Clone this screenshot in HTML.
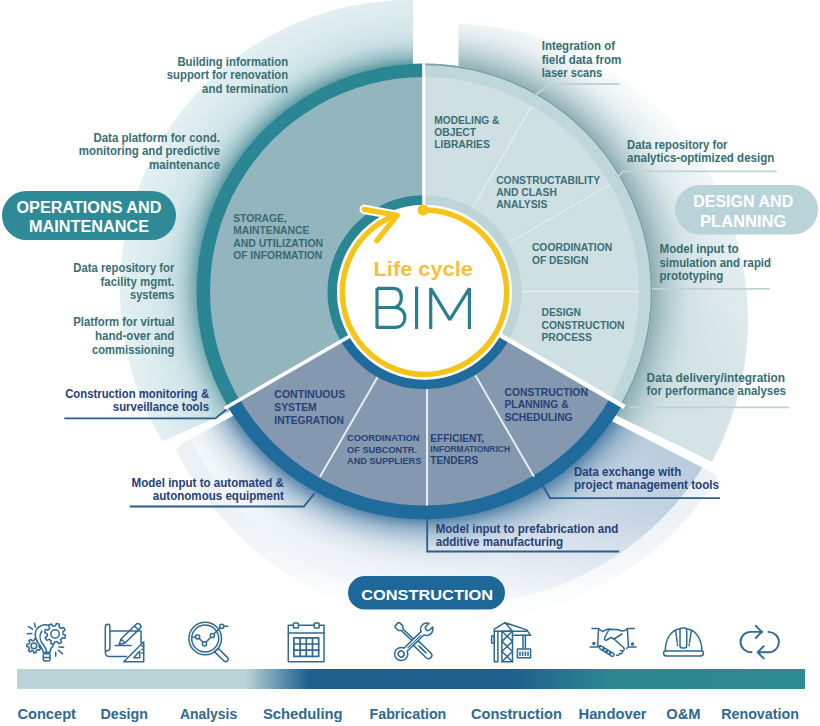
<!DOCTYPE html>
<html><head><meta charset="utf-8"><style>
html,body{margin:0;padding:0;background:#ffffff;}
body{width:820px;height:726px;overflow:hidden;font-family:"Liberation Sans",sans-serif;}
svg{display:block;}
</style></head><body>
<svg width="820" height="726" viewBox="0 0 820 726">
<defs>
<radialGradient id="gOps" gradientUnits="userSpaceOnUse" cx="424.5" cy="291.5" r="300">
 <stop offset="0.7600" stop-color="#b5d4d9"/>
 <stop offset="0.8333" stop-color="#cee3e7"/>
 <stop offset="0.9167" stop-color="#daeaed"/>
 <stop offset="1.0000" stop-color="#e3f0f2"/>
</radialGradient>
<radialGradient id="gOpsSh" gradientUnits="userSpaceOnUse" cx="424.5" cy="291.5" r="262">
 <stop offset="0.8702" stop-color="#2f7a85" stop-opacity="0.62"/>
 <stop offset="0.9008" stop-color="#4f8f98" stop-opacity="0.38"/>
 <stop offset="0.9466" stop-color="#7fb0b7" stop-opacity="0.15"/>
 <stop offset="1.0000" stop-color="#b9d5d9" stop-opacity="0"/>
</radialGradient>
<radialGradient id="gDes" gradientUnits="userSpaceOnUse" cx="560" cy="420" r="340">
 <stop offset="0.0000" stop-color="#d0e1e4"/>
 <stop offset="0.4412" stop-color="#d4e3e6"/>
 <stop offset="0.6765" stop-color="#e1ecee"/>
 <stop offset="0.8529" stop-color="#f3f7f8"/>
 <stop offset="1.0000" stop-color="#ffffff"/>
</radialGradient>
<radialGradient id="gDesSh" gradientUnits="userSpaceOnUse" cx="424.5" cy="291.5" r="300">
 <stop offset="0.7533" stop-color="#86a9b0" stop-opacity="0.95"/>
 <stop offset="0.8167" stop-color="#a9c4c9" stop-opacity="0.7"/>
 <stop offset="0.8833" stop-color="#c8dcdf" stop-opacity="0.4"/>
 <stop offset="1.0000" stop-color="#e0ebed" stop-opacity="0"/>
</radialGradient>
<linearGradient id="gCon" gradientUnits="userSpaceOnUse" x1="700" y1="430" x2="250" y2="600">
 <stop offset="0" stop-color="#b3c7d9"/>
 <stop offset="0.35" stop-color="#cad8e5"/>
 <stop offset="0.7" stop-color="#e4ecf2"/>
 <stop offset="1" stop-color="#f5f8fa"/>
</linearGradient>
<radialGradient id="gConSh" gradientUnits="userSpaceOnUse" cx="424.5" cy="291.5" r="275">
 <stop offset="0.8291" stop-color="#3b6f9c" stop-opacity="0.8"/>
 <stop offset="0.8727" stop-color="#4f80a8" stop-opacity="0.45"/>
 <stop offset="0.9309" stop-color="#7c9fbd" stop-opacity="0.18"/>
 <stop offset="1.0000" stop-color="#a9c0d4" stop-opacity="0"/>
</radialGradient>
<linearGradient id="gBar" x1="17" x2="805" y1="0" y2="0" gradientUnits="userSpaceOnUse">
 <stop offset="0" stop-color="#b9d3d7"/>
 <stop offset="0.290" stop-color="#b9d3d7"/>
 <stop offset="0.370" stop-color="#1f5f8d"/>
 <stop offset="0.625" stop-color="#1f5f8d"/>
 <stop offset="0.755" stop-color="#2c8790"/>
 <stop offset="1" stop-color="#2e8a92"/>
</linearGradient>
<linearGradient id="mOpsG" gradientUnits="userSpaceOnUse" x1="0" y1="40" x2="0" y2="440">
 <stop offset="0" stop-color="#fff"/><stop offset="0.45" stop-color="#fff"/><stop offset="1" stop-color="#777"/>
</linearGradient>
<mask id="mOps" maskUnits="userSpaceOnUse" x="0" y="0" width="820" height="726"><rect width="820" height="726" fill="url(#mOpsG)"/></mask>
<linearGradient id="mDesG" gradientUnits="userSpaceOnUse" x1="0" y1="40" x2="0" y2="460">
 <stop offset="0" stop-color="#fff"/><stop offset="0.4" stop-color="#fff"/><stop offset="1" stop-color="#888"/>
</linearGradient>
<mask id="mDes" maskUnits="userSpaceOnUse" x="0" y="0" width="820" height="726"><rect width="820" height="726" fill="url(#mDesG)"/></mask>
<linearGradient id="mConG" gradientUnits="userSpaceOnUse" x1="0" y1="420" x2="0" y2="610">
 <stop offset="0" stop-color="#fff"/><stop offset="0.5" stop-color="#ddd"/><stop offset="0.8" stop-color="#666"/><stop offset="1" stop-color="#111"/>
</linearGradient>
<mask id="mCon" maskUnits="userSpaceOnUse" x="0" y="0" width="820" height="726"><rect width="820" height="726" fill="url(#mConG)"/></mask>
<clipPath id="cOps"><circle cx="410" cy="290" r="290"/></clipPath>
<clipPath id="cCon"><circle cx="454.5" cy="311.5" r="293"/></clipPath>
<clipPath id="cCon2"><circle cx="454.5" cy="311.5" r="311"/></clipPath>
<clipPath id="cDes"><circle cx="452" cy="320" r="296"/></clipPath>
</defs>
<g clip-path="url(#cOps)"><path d="M413,0 L413,291 L228,412 L150,447 L0,520 L0,0 Z" fill="url(#gOps)"/><path d="M413,0 L413,291 L228,412 L150,447 L0,520 L0,0 Z" fill="url(#gOpsSh)" mask="url(#mOps)"/></g>
<g clip-path="url(#cDes)"><path d="M458.5,0 L820,0 L820,520 L724.6,467.8 L615.4,415.1 L470,340 L458.5,330 Z" fill="url(#gDes)"/><path d="M458.5,0 L820,0 L820,520 L724.6,467.8 L615.4,415.1 L470,340 L458.5,330 Z" fill="url(#gDesSh)"/></g>
<g clip-path="url(#cCon2)"><path d="M231,417 L183,443 L100,520 L100,726 L800,726 L800,520 L699.3,465.9 L613.4,422 L424.5,320 Z" fill="#eaf0f5" mask="url(#mCon)"/></g>
<g clip-path="url(#cCon)"><path d="M231,417 L183,443 L100,520 L100,726 L800,726 L800,520 L699.3,465.9 L613.4,422 L424.5,320 Z" fill="url(#gCon)" mask="url(#mCon)"/><path d="M231,417 L183,443 L100,520 L100,726 L800,726 L800,520 L699.3,465.9 L613.4,422 L424.5,320 Z" fill="url(#gConSh)"/></g>
<path d="M424.50,291.50 L227.05,405.50 A228,228 0 0 1 424.50,63.50 Z" fill="#93b5bd"/>
<path d="M227.05,405.50 A228,228 0 0 1 424.50,63.50 L424.50,77.00 A214.5,214.5 0 0 0 238.74,398.75 Z" fill="#2a8692"/>
<path d="M424.50,291.50 L424.50,63.50 A228,228 0 0 1 621.95,405.50 Z" fill="#cfe0e3"/>
<path d="M424.50,63.50 A228,228 0 0 1 621.95,405.50 L610.26,398.75 A214.5,214.5 0 0 0 424.50,77.00 Z" fill="#bfd6da"/>
<path d="M424.50,63.50 A228,228 0 0 1 621.95,405.50 L620.48,404.65 A226.3,226.3 0 0 0 424.50,65.20 Z" fill="#7aa2a9"/>
<path d="M424.50,291.50 L621.95,405.50 A228,228 0 0 1 227.05,405.50 Z" fill="#8498af"/>
<path d="M621.95,405.50 A228,228 0 0 1 227.05,405.50 L239.17,398.50 A214,214 0 0 0 609.83,398.50 Z" fill="#1f6b9b"/>
<line x1="473.00" y1="207.50" x2="531.75" y2="105.74" stroke="#e4eef0" stroke-width="1.3"/>
<line x1="508.50" y1="243.00" x2="610.26" y2="184.25" stroke="#e4eef0" stroke-width="1.3"/>
<line x1="521.50" y1="291.50" x2="639.00" y2="291.50" stroke="#e4eef0" stroke-width="1.3"/>
<line x1="475.50" y1="375.50" x2="534.00" y2="476.83" stroke="#e6edf3" stroke-width="2"/>
<line x1="427.00" y1="388.50" x2="427.00" y2="505.50" stroke="#e6edf3" stroke-width="2"/>
<line x1="378.50" y1="375.50" x2="320.00" y2="476.83" stroke="#e6edf3" stroke-width="2"/>
<path d="M340.50,340.70 A97,97 0 0 1 424.50,195.20 L424.50,204.70 A87.5,87.5 0 0 0 348.72,335.95 Z" fill="#2a8692"/>
<path d="M424.50,195.20 A97,97 0 0 1 508.50,340.70 L500.28,335.95 A87.5,87.5 0 0 0 424.50,204.70 Z" fill="#bdd5d9"/>
<path d="M508.50,340.70 A97,97 0 0 1 340.50,340.70 L348.72,335.95 A87.5,87.5 0 0 0 500.28,335.95 Z" fill="#1f6b9b"/>
<circle cx="424.5" cy="292.2" r="87.5" fill="#ffffff"/>
<line x1="350.89" y1="335.50" x2="224.45" y2="408.50" stroke="#ffffff" stroke-width="3.6"/>
<line x1="498.11" y1="334.00" x2="624.55" y2="407.00" stroke="#ffffff" stroke-width="4.5"/>
<line x1="423.7" y1="62" x2="423.7" y2="205" stroke="#ffffff" stroke-width="3"/>
<path d="M364.3,209.3 L397.2,215.3 L376.9,240.6" fill="none" stroke="#ffffff" stroke-width="9.5" stroke-linecap="round" stroke-linejoin="round"/>
<path d="M423.07,210.01 A82.2,82.2 0 1 1 397.06,214.71" fill="none" stroke="#f5c419" stroke-width="5.5"/>
<circle cx="423.07" cy="210.01" r="5.6" fill="#f5c419"/>
<path d="M364.3,209.3 L397.2,215.3 L376.9,240.6" fill="none" stroke="#f5c419" stroke-width="5.4" stroke-linecap="round" stroke-linejoin="round"/>
<g font-family="Liberation Sans, sans-serif" font-weight="700"><text x="373.50" y="276.20" font-size="19.5" fill="#f1c23a" text-anchor="start" textLength="99.4" lengthAdjust="spacingAndGlyphs" >Life cycle</text></g>
<g fill="none" stroke="#2b7f8c" stroke-width="3.2" stroke-linejoin="bevel">
<path d="M377,288.3 L377,327.4 L395,327.4 C402,327.4 404.9,322.5 404.9,317.3 C404.9,311.8 401,307.5 394,307.5 L377,307.5 M377,288.3 L393,288.3 C399,288.3 401.4,292.5 401.4,297.8 C401.4,303.3 398,307.5 393,307.5"/>
<path d="M416.6,286.7 L416.6,329"/>
<path d="M430.7,329 L430.7,288.3 L449.8,319.6 L469.4,288.3 L469.4,329"/>
</g>
<g font-family="Liberation Sans, sans-serif" font-weight="700"><text x="233.20" y="222.00" font-size="10.3" fill="#396b72" text-anchor="start" >STORAGE,</text><text x="233.20" y="234.40" font-size="10.3" fill="#396b72" text-anchor="start" >MAINTENANCE</text><text x="233.20" y="246.80" font-size="10.3" fill="#396b72" text-anchor="start" textLength="90.0" lengthAdjust="spacingAndGlyphs" >AND UTILIZATION</text><text x="233.20" y="259.30" font-size="10.3" fill="#396b72" text-anchor="start" >OF INFORMATION</text></g>
<g font-family="Liberation Sans, sans-serif" font-weight="700"><text x="434.30" y="123.70" font-size="10.3" fill="#3a6f75" text-anchor="start" textLength="65.1" lengthAdjust="spacingAndGlyphs" >MODELING &amp;</text><text x="434.30" y="135.90" font-size="10.3" fill="#3a6f75" text-anchor="start" >OBJECT</text><text x="434.30" y="148.30" font-size="10.3" fill="#3a6f75" text-anchor="start" >LIBRARIES</text></g>
<g font-family="Liberation Sans, sans-serif" font-weight="700"><text x="496.20" y="183.70" font-size="10.3" fill="#3a6f75" text-anchor="start" textLength="103.9" lengthAdjust="spacingAndGlyphs" >CONSTRUCTABILITY</text><text x="496.20" y="195.90" font-size="10.3" fill="#3a6f75" text-anchor="start" >AND CLASH</text><text x="496.20" y="208.00" font-size="10.3" fill="#3a6f75" text-anchor="start" >ANALYSIS</text></g>
<g font-family="Liberation Sans, sans-serif" font-weight="700"><text x="531.90" y="251.20" font-size="10.3" fill="#3a6f75" text-anchor="start" textLength="80.3" lengthAdjust="spacingAndGlyphs" >COORDINATION</text><text x="531.90" y="263.60" font-size="10.3" fill="#3a6f75" text-anchor="start" >OF DESIGN</text></g>
<g font-family="Liberation Sans, sans-serif" font-weight="700"><text x="541.50" y="316.30" font-size="10.3" fill="#3a6f75" text-anchor="start" >DESIGN</text><text x="541.50" y="328.70" font-size="10.3" fill="#3a6f75" text-anchor="start" textLength="83.0" lengthAdjust="spacingAndGlyphs" >CONSTRUCTION</text><text x="541.50" y="340.70" font-size="10.3" fill="#3a6f75" text-anchor="start" >PROCESS</text></g>
<g font-family="Liberation Sans, sans-serif" font-weight="700"><text x="274.30" y="397.90" font-size="10.3" fill="#254377" text-anchor="start" textLength="70.9" lengthAdjust="spacingAndGlyphs" >CONTINUOUS</text><text x="274.30" y="410.80" font-size="10.3" fill="#254377" text-anchor="start" >SYSTEM</text><text x="274.30" y="423.80" font-size="10.3" fill="#254377" text-anchor="start" textLength="69.5" lengthAdjust="spacingAndGlyphs" >INTEGRATION</text></g>
<g font-family="Liberation Sans, sans-serif" font-weight="700"><text x="347.10" y="441.30" font-size="9.2" fill="#254377" text-anchor="start" textLength="72.5" lengthAdjust="spacingAndGlyphs" >COORDINATION</text><text x="347.10" y="453.00" font-size="9.2" fill="#254377" text-anchor="start" >OF SUBCONTR.</text><text x="347.10" y="464.40" font-size="9.2" fill="#254377" text-anchor="start" textLength="74.2" lengthAdjust="spacingAndGlyphs" >AND SUPPLIERS</text></g>
<g font-family="Liberation Sans, sans-serif" font-weight="700"><text x="430.30" y="442.00" font-size="10.2" fill="#254377" text-anchor="start" textLength="53.8" lengthAdjust="spacingAndGlyphs" >EFFICIENT,</text><text x="430.30" y="464.40" font-size="10.2" fill="#254377" text-anchor="start" textLength="47.9" lengthAdjust="spacingAndGlyphs" >TENDERS</text></g>
<g font-family="Liberation Sans, sans-serif" font-weight="700"><text x="430.30" y="451.70" font-size="8.4" fill="#254377" text-anchor="start" textLength="79.7" lengthAdjust="spacingAndGlyphs" >INFORMATIONRICH</text></g>
<g font-family="Liberation Sans, sans-serif" font-weight="700"><text x="504.50" y="396.30" font-size="10.3" fill="#254377" text-anchor="start" textLength="83.4" lengthAdjust="spacingAndGlyphs" >CONSTRUCTION</text><text x="504.50" y="408.40" font-size="10.3" fill="#254377" text-anchor="start" >PLANNING &amp;</text><text x="504.50" y="421.10" font-size="10.3" fill="#254377" text-anchor="start" >SCHEDULING</text></g>
<g font-family="Liberation Sans, sans-serif" font-weight="700"><text x="288.10" y="65.50" font-size="11.9" fill="#3a6f74" text-anchor="end" textLength="110.7" lengthAdjust="spacingAndGlyphs" >Building information</text><text x="288.10" y="79.40" font-size="11.9" fill="#3a6f74" text-anchor="end" textLength="121.3" lengthAdjust="spacingAndGlyphs" >support for renovation</text><text x="288.10" y="92.90" font-size="11.9" fill="#3a6f74" text-anchor="end" textLength="86.0" lengthAdjust="spacingAndGlyphs" >and termination</text></g>
<g font-family="Liberation Sans, sans-serif" font-weight="700"><text x="219.90" y="141.60" font-size="11.9" fill="#3a6f74" text-anchor="end" textLength="126.5" lengthAdjust="spacingAndGlyphs" >Data platform for cond.</text><text x="219.90" y="155.20" font-size="11.9" fill="#3a6f74" text-anchor="end" textLength="141.1" lengthAdjust="spacingAndGlyphs" >monitoring and predictive</text><text x="219.90" y="168.90" font-size="11.9" fill="#3a6f74" text-anchor="end" textLength="70.9" lengthAdjust="spacingAndGlyphs" >maintenance</text></g>
<g font-family="Liberation Sans, sans-serif" font-weight="700"><text x="174.40" y="271.60" font-size="11.9" fill="#3a6f74" text-anchor="end" textLength="101.1" lengthAdjust="spacingAndGlyphs" >Data repository for</text><text x="174.40" y="285.70" font-size="11.9" fill="#3a6f74" text-anchor="end" textLength="73.9" lengthAdjust="spacingAndGlyphs" >facility mgmt.</text><text x="174.40" y="298.50" font-size="11.9" fill="#3a6f74" text-anchor="end" textLength="44.4" lengthAdjust="spacingAndGlyphs" >systems</text></g>
<g font-family="Liberation Sans, sans-serif" font-weight="700"><text x="174.40" y="326.40" font-size="11.9" fill="#3a6f74" text-anchor="end" textLength="101.1" lengthAdjust="spacingAndGlyphs" >Platform for virtual</text><text x="174.40" y="340.40" font-size="11.9" fill="#3a6f74" text-anchor="end" textLength="79.4" lengthAdjust="spacingAndGlyphs" >hand-over and</text><text x="174.40" y="354.00" font-size="11.9" fill="#3a6f74" text-anchor="end" textLength="82.4" lengthAdjust="spacingAndGlyphs" >commissioning</text></g>
<g font-family="Liberation Sans, sans-serif" font-weight="700"><text x="209.10" y="398.20" font-size="11.9" fill="#26427a" text-anchor="end" textLength="143.9" lengthAdjust="spacingAndGlyphs" >Construction monitoring &amp;</text><text x="209.10" y="411.10" font-size="11.9" fill="#26427a" text-anchor="end" textLength="96.3" lengthAdjust="spacingAndGlyphs" >surveillance tools</text></g>
<g font-family="Liberation Sans, sans-serif" font-weight="700"><text x="283.90" y="486.80" font-size="11.9" fill="#26427a" text-anchor="end" textLength="152.4" lengthAdjust="spacingAndGlyphs" >Model input to automated &amp;</text><text x="283.90" y="500.10" font-size="11.9" fill="#26427a" text-anchor="end" textLength="131.1" lengthAdjust="spacingAndGlyphs" >autonomous equipment</text></g>
<g font-family="Liberation Sans, sans-serif" font-weight="700"><text x="435.70" y="532.50" font-size="11.9" fill="#26427a" text-anchor="start" textLength="182.6" lengthAdjust="spacingAndGlyphs" >Model input to prefabrication and</text><text x="435.70" y="545.90" font-size="11.9" fill="#26427a" text-anchor="start" textLength="127.5" lengthAdjust="spacingAndGlyphs" >additive manufacturing</text></g>
<g font-family="Liberation Sans, sans-serif" font-weight="700"><text x="573.90" y="475.70" font-size="11.9" fill="#26427a" text-anchor="start" textLength="107.3" lengthAdjust="spacingAndGlyphs" >Data exchange with</text><text x="573.90" y="489.10" font-size="11.9" fill="#26427a" text-anchor="start" textLength="145.1" lengthAdjust="spacingAndGlyphs" >project management tools</text></g>
<g font-family="Liberation Sans, sans-serif" font-weight="700"><text x="541.70" y="50.40" font-size="11.9" fill="#376e73" text-anchor="start" textLength="73.4" lengthAdjust="spacingAndGlyphs" >Integration of</text><text x="541.70" y="63.80" font-size="11.9" fill="#376e73" text-anchor="start" textLength="79.6" lengthAdjust="spacingAndGlyphs" >field data from</text><text x="541.70" y="77.40" font-size="11.9" fill="#376e73" text-anchor="start" textLength="60.5" lengthAdjust="spacingAndGlyphs" >laser scans</text></g>
<g font-family="Liberation Sans, sans-serif" font-weight="700"><text x="627.10" y="148.70" font-size="11.9" fill="#376e73" text-anchor="start" textLength="100.3" lengthAdjust="spacingAndGlyphs" >Data repository for</text><text x="627.10" y="161.80" font-size="11.9" fill="#376e73" text-anchor="start" textLength="147.1" lengthAdjust="spacingAndGlyphs" >analytics-optimized design</text></g>
<g font-family="Liberation Sans, sans-serif" font-weight="700"><text x="659.50" y="253.40" font-size="11.9" fill="#376e73" text-anchor="start" textLength="79.1" lengthAdjust="spacingAndGlyphs" >Model input to</text><text x="659.50" y="267.10" font-size="11.9" fill="#376e73" text-anchor="start" textLength="111.5" lengthAdjust="spacingAndGlyphs" >simulation and rapid</text><text x="659.50" y="280.20" font-size="11.9" fill="#376e73" text-anchor="start" textLength="63.7" lengthAdjust="spacingAndGlyphs" >prototyping</text></g>
<g font-family="Liberation Sans, sans-serif" font-weight="700"><text x="646.60" y="382.40" font-size="11.9" fill="#376e73" text-anchor="start" textLength="138.4" lengthAdjust="spacingAndGlyphs" >Data delivery/integration</text><text x="646.60" y="395.20" font-size="11.9" fill="#376e73" text-anchor="start" textLength="139.3" lengthAdjust="spacingAndGlyphs" >for performance analyses</text></g>
<g fill="none" stroke="#2a5f8e" stroke-width="1.8"><polyline points="64.3,418.4 215.4,418.4 226.3,409.5"/><polyline points="129.7,506.5 303.9,506.5 314.6,493.2"/><polyline points="427.2,519 427.2,551.5 619.2,551.5"/><polyline points="542.5,485 550,498.2 720,498.2"/></g>
<g fill="none" stroke="#bfd2d5" stroke-width="1.8"><polyline points="535,95 550.7,84 619.5,84"/><polyline points="617,178 623.2,171.3 776.8,171.3"/><polyline points="652,288.8 769.6,288.8"/><polyline points="629.8,407.3 789.2,407.3"/></g>
<rect x="2" y="191" width="174" height="49" rx="24.5" fill="#2e8a97"/>
<g font-family="Liberation Sans, sans-serif" font-weight="700"><text x="89.00" y="213.00" font-size="16" fill="#ffffff" text-anchor="middle" textLength="145.0" lengthAdjust="spacingAndGlyphs" >OPERATIONS AND</text><text x="89.00" y="232.40" font-size="16" fill="#ffffff" text-anchor="middle" textLength="120.0" lengthAdjust="spacingAndGlyphs" >MAINTENANCE</text></g>
<rect x="675" y="185" width="143" height="49.4" rx="24.7" fill="#b9d4d8"/>
<g font-family="Liberation Sans, sans-serif" font-weight="700"><text x="743.20" y="206.70" font-size="16" fill="#ffffff" text-anchor="middle" textLength="100.1" lengthAdjust="spacingAndGlyphs" >DESIGN AND</text><text x="743.20" y="226.60" font-size="16" fill="#ffffff" text-anchor="middle" textLength="86.4" lengthAdjust="spacingAndGlyphs" >PLANNING</text></g>
<rect x="348" y="576" width="157" height="33.5" rx="16.75" fill="#1f6699"/>
<g font-family="Liberation Sans, sans-serif" font-weight="700"><text x="427.10" y="600.20" font-size="15.5" fill="#ffffff" text-anchor="middle" textLength="131.8" lengthAdjust="spacingAndGlyphs" >CONSTRUCTION</text></g>
<rect x="17" y="669" width="788" height="20" fill="url(#gBar)"/>
<g font-family="Liberation Sans, sans-serif" font-weight="700"><text x="17.40" y="718.80" font-size="15.5" fill="#2f6890" text-anchor="start" textLength="58.6" lengthAdjust="spacingAndGlyphs" >Concept</text><text x="100.40" y="718.80" font-size="15.5" fill="#2f6890" text-anchor="start" textLength="47.6" lengthAdjust="spacingAndGlyphs" >Design</text><text x="179.90" y="718.80" font-size="15.5" fill="#2f6890" text-anchor="start" textLength="57.3" lengthAdjust="spacingAndGlyphs" >Analysis</text><text x="262.90" y="718.80" font-size="15.5" fill="#2f6890" text-anchor="start" textLength="79.7" lengthAdjust="spacingAndGlyphs" >Scheduling</text><text x="369.50" y="718.80" font-size="15.5" fill="#2f6890" text-anchor="start" textLength="76.8" lengthAdjust="spacingAndGlyphs" >Fabrication</text><text x="471.00" y="718.80" font-size="15.5" fill="#2f6890" text-anchor="start" textLength="90.8" lengthAdjust="spacingAndGlyphs" >Construction</text><text x="578.50" y="718.80" font-size="15.5" fill="#2f6890" text-anchor="start" textLength="68.1" lengthAdjust="spacingAndGlyphs" >Handover</text><text x="666.30" y="718.80" font-size="15.5" fill="#2f6890" text-anchor="start" textLength="34.3" lengthAdjust="spacingAndGlyphs" >O&amp;M</text><text x="721.20" y="718.80" font-size="15.5" fill="#2f6890" text-anchor="start" textLength="77.7" lengthAdjust="spacingAndGlyphs" >Renovation</text></g>
<g fill="none" stroke="#2e6a93" stroke-width="1.5" stroke-linecap="round" stroke-linejoin="round">
<path d="M39.06,647.00 L40.70,648.17 L39.55,650.26 L37.68,649.51 L36.18,650.58 L36.28,652.59 L33.94,653.00 L33.36,651.07 L31.58,650.57 L30.07,651.90 L28.29,650.32 L29.44,648.66 L28.73,646.96 L26.75,646.61 L26.87,644.23 L28.88,644.10 L29.77,642.48 L28.81,640.71 L30.74,639.33 L32.10,640.81 L33.92,640.50 L34.70,638.64 L36.99,639.30 L36.68,641.29 L38.06,642.51 L39.99,641.97 L40.91,644.16 L39.16,645.16 Z" fill="#fff"/><circle cx="33.9" cy="645.8" r="2.9"/>
<path d="M49,625.2 C44,623.6 36.6,626 35.3,632.8 C34.5,638.5 37.5,642 40,645.5 C42,648.3 43.2,650 43.2,652.5 L50.1,652.5 C50.1,650 51,647.5 53.1,645.8 Z" fill="#fff" stroke="none"/>
<path d="M49,625.2 C44,623.6 36.6,626 35.3,632.8 C34.5,638.5 37.5,642 40,645.5 C42,648.3 43.2,650 43.2,652.5 L50.1,652.5 C50.1,650 51,647.5 53.1,645.8"/>
<path d="M63.09,634.20 L65.61,635.29 L64.77,638.24 L62.06,637.85 L60.54,639.76 L61.55,642.31 L58.87,643.81 L57.23,641.61 L54.80,641.89 L53.71,644.41 L50.76,643.57 L51.15,640.86 L49.24,639.34 L46.69,640.35 L45.19,637.67 L47.39,636.03 L47.11,633.60 L44.59,632.51 L45.43,629.56 L48.14,629.95 L49.66,628.04 L48.65,625.49 L51.33,623.99 L52.97,626.19 L55.40,625.91 L56.49,623.39 L59.44,624.23 L59.05,626.94 L60.96,628.46 L63.51,627.45 L65.01,630.13 L62.81,631.77 Z" fill="#fff"/><circle cx="55.1" cy="633.9" r="4.2"/>
<path d="M41.8,631 C39.5,634.5 39.5,639.5 42,643 C44.5,646 46.3,648.5 46.5,652"/>
<rect x="43.2" y="653.8" width="6.9" height="7.2" rx="1.4"/><line x1="43.5" y1="657.4" x2="49.8" y2="657.4"/>
<path d="M34.5,623.3 L35.4,627.3 M28.6,626.6 L32.6,629.2 M27.3,633.8 L31.9,633.5 M59,647 L63.6,647.3 M58.4,650.4 L62.4,653.7 M55.7,652.3 L55.7,656.3"/>
<path d="M109.9,630.9 L141,630.9 L141,643 M126.5,656.4 L109,656.4 C106.5,656.4 105.3,654.5 105.3,652 L105.3,627 C105.3,625.3 106.5,624.3 108,624.3 C109.2,624.3 109.9,625.3 109.9,627 L109.9,648.5 C109.9,650 108.5,650.6 107,650.8 C105.8,651 105.3,652 105.3,652"/>
<path d="M119.2,644.5 L121,639 L136,624.5 C137.2,623.3 139,623.5 140,624.5 C141,625.5 141.2,627.2 140,628.4 L125,643 Z M121,639 L125,643 M134.5,626 L138.5,630"/>
<line x1="115.2" y1="645.4" x2="131.1" y2="645.4"/>
<path d="M123.8,661.7 L143.7,661.7 L143.7,641.8 Z M133.7,657.7 L139.7,657.7 L139.7,651 Z"/>
<path d="M143.7,646 L141.8,646 M143.7,649.5 L141.8,649.5 M143.7,653 L141.8,653" />
<circle cx="205.2" cy="638.5" r="16.3"/><circle cx="205.2" cy="638.5" r="13.5"/>
<path d="M215.4,650.7 L218.2,648.2 L227.5,657.6 C228.6,658.8 228.4,660.3 227.3,661.2 C226.2,662.1 224.7,661.9 223.8,660.8 L214.4,651.6 Z"/>
<polyline points="192,637.2 197.6,636.8 204.5,643.8 212.4,635.5 221.7,626.3 227.7,626.3"/>
<circle cx="197.6" cy="636.8" r="2.1" fill="#fff"/>
<circle cx="204.5" cy="643.8" r="2.1" fill="#fff"/>
<circle cx="212.4" cy="635.5" r="2.1" fill="#fff"/>
<circle cx="221.7" cy="626.3" r="2.1" fill="#fff"/>
<rect x="288.3" y="625.3" width="35.7" height="36.4"/><line x1="288.3" y1="632.9" x2="324" y2="632.9"/>
<rect x="293.4" y="623" width="5" height="5" rx="0.8" fill="#fff"/><rect x="314.2" y="623" width="5" height="5" rx="0.8" fill="#fff"/>
<g stroke-width="1.7"><rect x="293.9" y="637.8" width="24.8" height="18.6"/><path d="M300.1,637.8 V656.4 M306.3,637.8 V656.4 M312.5,637.8 V656.4 M293.9,644 H318.7 M293.9,650.2 H318.7"/></g>
<g transform="translate(396.6,624.3) rotate(44.2)"><path d="M0,-2 L1.2,-3.2 L5.6,-3.2 L7.6,-1.1 L26.5,-1.1 L27.5,-3.3 L44.5,-3.3 A3.3,3.3 0 0 1 44.5,3.3 L27.5,3.3 L26.5,1.1 L7.6,1.1 L5.6,3.2 L1.2,3.2 L0,2 Z" fill="#fff"/><line x1="31" y1="0" x2="41" y2="0"/></g>
<g transform="translate(401.2,654) rotate(-44.2)"><circle cx="0" cy="0" r="6.6" fill="#fff"/><circle cx="35.6" cy="0" r="6.2" fill="#fff"/><rect x="5" y="-2.2" width="26" height="4.4" fill="#fff" stroke="none"/><rect x="36.2" y="-2.6" width="7" height="5.2" fill="#fff" stroke="none"/><path d="M6.22,-2.2 L29.8,-2.2 M6.22,2.2 L29.8,2.2"/><path d="M41.2,-2.6 L37.4,-2.6 A2.6,2.6 0 0 0 37.4,2.6 L41.2,2.6"/><circle cx="0" cy="0" r="3"/><line x1="9" y1="0.2" x2="27" y2="0.2" stroke-width="1.1"/></g>
<rect x="501.9" y="631.2" width="10.6" height="30.5"/><path d="M501.9,631.2 L512.5,641.4 M512.5,631.2 L501.9,641.4 M501.9,641.4 L512.5,651.5 M512.5,641.4 L501.9,651.5 M501.9,651.5 L512.5,661.7 M512.5,651.5 L501.9,661.7"/>
<rect x="494.3" y="631.2" width="3.6" height="30.5"/><rect x="491.6" y="636" width="2.7" height="7"/>
<path d="M494.3,631.2 L494.3,629.2 L504.9,622.6 L526.7,629.9 L530.6,635.2 L512.5,635.2 M497.9,631.2 L512.5,631.2 L504.9,622.6 M512.5,631.2 L526.7,631.2"/>
<path d="M523,635.2 L523,648 M525.4,635.2 L525.4,648"/><rect x="517.4" y="649.1" width="13.2" height="8.6"/><path d="M520,652 V655.5 M522.7,652 V655.5 M525.4,652 V655.5 M528,652 V655.5"/>
<path d="M592,628.6 L597.5,628.6 C599,628.6 600,629.5 601,630.5 L602.5,631.5 L608,629 L612,629.5 M598.5,630 L597.6,647 M590.2,647 L597.6,647 L600.5,645.5"/>
<path d="M634.2,628.6 L628.5,628.6 C627,628.6 626,629.5 625,630.5 L622,631 L617,629.5 M627.5,630 L628.4,647 M636.2,647 L628.4,647 L626.5,648.5"/>
<path d="M617,629.5 L609,629.5 L604.5,638 C604,639.5 605,640.5 606.5,640 L611,637.5 L614,639 L623.5,647.5 C625,649 624,651 622.5,651 L620.5,650.5 M622.5,651 C623,653 621,654.5 619.5,653.5 M619.5,653.5 C619.5,655.5 617.5,656 616.5,655"/>
<path d="M622,634 L614,639"/>
<rect x="600.3" y="645.6" width="3.2" height="5.2" rx="1.6" transform="rotate(-55 601.9 648.2)"/>
<rect x="603.6" y="647.6" width="3.2" height="5.2" rx="1.6" transform="rotate(-55 605.2 650.2)"/>
<rect x="606.8" y="649.6" width="3.2" height="5.2" rx="1.6" transform="rotate(-55 608.4 652.2)"/>
<rect x="610.1" y="651.6" width="3.2" height="5.2" rx="1.6" transform="rotate(-55 611.7 654.2)"/>
<circle cx="593.9" cy="643.6" r="1" fill="#2e6a93"/><circle cx="632.5" cy="643.9" r="1" fill="#2e6a93"/>
<path d="M665.3,651.1 C665.3,638 672,629.6 680,628.7 M686.7,628.7 C695,629.6 701.9,638 701.9,651.1"/>
<path d="M665,651.1 L701.9,651.1 C703.2,651.1 703.6,652.5 703.3,654 C703,655.3 701.5,656 700,656 L667,656 C665.5,656 664,655.3 663.7,654 C663.4,652.5 663.8,651.1 665,651.1"/>
<rect x="680" y="628" width="6.7" height="20" rx="2.2"/><path d="M675.8,631.6 L677.2,642.5 M677.4,644.3 L677.5,645.6 M691.2,631.6 L689.5,642.5 M689.3,644.3 L689.1,645.6"/>
</g>
<g fill="none" stroke="#2e6a93" stroke-width="1.9" stroke-linecap="round" stroke-linejoin="round">
<path d="M751.5,652.3 C745,652 740.5,647.5 740.5,642 C740.5,636.5 745,631.9 750.5,631.9 L762.4,631.9 M755.7,625.8 L761.8,631.9 L755.7,638"/>
<path d="M768.5,631.9 C774.5,632.2 778.9,636.5 778.9,642 C778.9,647.5 774.5,652.3 769,652.3 L757.6,652.3 M763.7,646.2 L757.6,652.3 L763.7,658.4"/>
</g>
</svg>
</body></html>
